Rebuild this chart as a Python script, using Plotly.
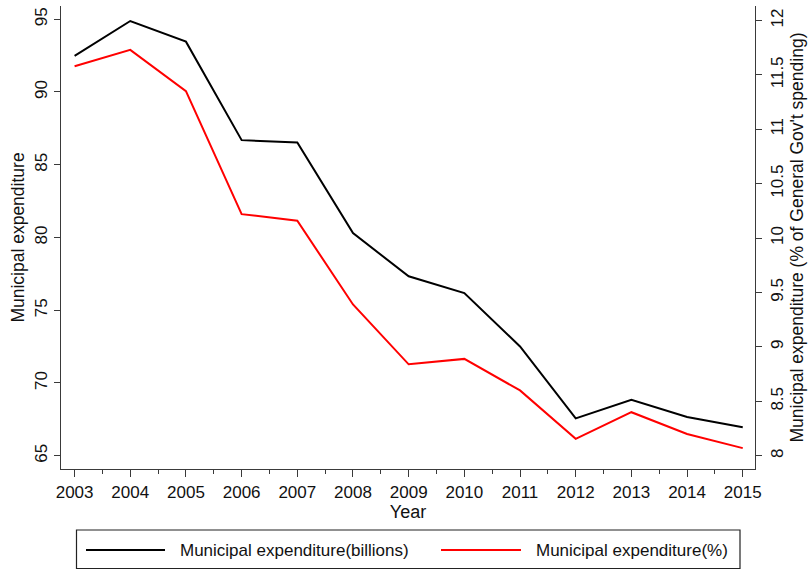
import plotly.graph_objects as go

years = [2003, 2004, 2005, 2006, 2007, 2008, 2009, 2010, 2011, 2012, 2013, 2014, 2015]
expenditure_billions = [92.48, 94.88, 93.46, 86.69, 86.53, 80.30, 77.33, 76.18, 72.51, 67.57, 68.85, 67.66, 66.95]
expenditure_pct = [11.58, 11.73, 11.35, 10.22, 10.16, 9.39, 8.84, 8.89, 8.60, 8.155, 8.40, 8.20, 8.07]
series_names = ["Municipal expenditure(billions)", "Municipal expenditure(%)"]
left_ticks = [65, 70, 75, 80, 85, 90, 95]
right_ticks = [8, 8.5, 9, 9.5, 10, 10.5, 11, 11.5, 12]
right_tick_labels = ["8", "8.5", "9", "9.5", "10", "10.5", "11", "11.5", "12"]

FONT = "Liberation Sans, Arial, sans-serif"
AX = "#3a3a3a"

fig = go.Figure()
fig.add_trace(go.Scatter(x=years, y=expenditure_billions, mode="lines", name=series_names[0],
                         line=dict(color="#000000", width=2), yaxis="y", showlegend=False))
fig.add_trace(go.Scatter(x=years, y=expenditure_pct, mode="lines", name=series_names[1],
                         line=dict(color="#ff0000", width=2), yaxis="y2", showlegend=False))

W, H = 812, 571
L, R, T, B = 61, 57, 6, 102
pw, ph = W - L - R, H - T - B


def px(xp):
    return (xp - L) / pw


def py(yp):
    return (H - B - yp) / ph


fig.update_layout(
    width=W, height=H,
    margin=dict(l=L, r=R, t=T, b=B, autoexpand=False),
    paper_bgcolor="white", plot_bgcolor="white",
    font=dict(family=FONT, size=17, color="#111"),
    xaxis=dict(
        range=[2002.756, 2015.22], tickmode="array", tickvals=years,
        ticktext=[str(y) for y in years], automargin=False,
        showline=True, linecolor=AX, linewidth=1.3, mirror=False,
        ticks="outside", ticklen=7, tickcolor=AX, tickwidth=1.3,
        minor=dict(dtick=0.5, tick0=2003, ticks="outside", ticklen=4, tickcolor=AX, tickwidth=1.3),
        showgrid=False, zeroline=False,
        title=dict(text="Year", font=dict(size=18), standoff=4),
        tickfont=dict(size=17),
    ),
    yaxis=dict(
        range=[64.087, 95.91], tickvals=left_ticks, automargin=False,
        showline=True, linecolor=AX, linewidth=1.3,
        ticks="outside", ticklen=6, tickcolor=AX, tickwidth=1.3,
        tickangle=-90, showgrid=False, zeroline=False,
        title=dict(text="Municipal expenditure", font=dict(size=17.5), standoff=2),
        tickfont=dict(size=17),
    ),
    yaxis2=dict(
        range=[7.878, 12.133], tickvals=right_ticks, ticktext=right_tick_labels,
        overlaying="y", side="right", automargin=False,
        showline=True, linecolor=AX, linewidth=1.3,
        ticks="outside", ticklen=6, tickcolor=AX, tickwidth=1.3,
        tickangle=-90, showgrid=False, zeroline=False,
        title=dict(text="Municipal expenditure (% of General Gov't spending)", font=dict(size=17.5), standoff=4),
        tickfont=dict(size=17),
    ),
)

# legend box drawn manually
fig.add_shape(type="rect", xref="paper", yref="paper",
              x0=px(76.5), x1=px(740), y0=py(568.5), y1=py(530),
              line=dict(color="#222", width=1.2), fillcolor="white")
legend_y = py(550)
fig.add_shape(type="line", xref="paper", yref="paper", x0=px(86), x1=px(165), y0=legend_y, y1=legend_y,
              line=dict(color="#000000", width=2))
fig.add_shape(type="line", xref="paper", yref="paper", x0=px(441), x1=px(521), y0=legend_y, y1=legend_y,
              line=dict(color="#ff0000", width=2))
fig.add_annotation(xref="paper", yref="paper", x=px(178), y=legend_y, text=series_names[0],
                   showarrow=False, xanchor="left", yanchor="middle", font=dict(size=17))
fig.add_annotation(xref="paper", yref="paper", x=px(534), y=legend_y, text=series_names[1],
                   showarrow=False, xanchor="left", yanchor="middle", font=dict(size=17))

fig.write_html("out.html", config={"displayModeBar": False},
               post_script="document.body.style.margin='0px';")
